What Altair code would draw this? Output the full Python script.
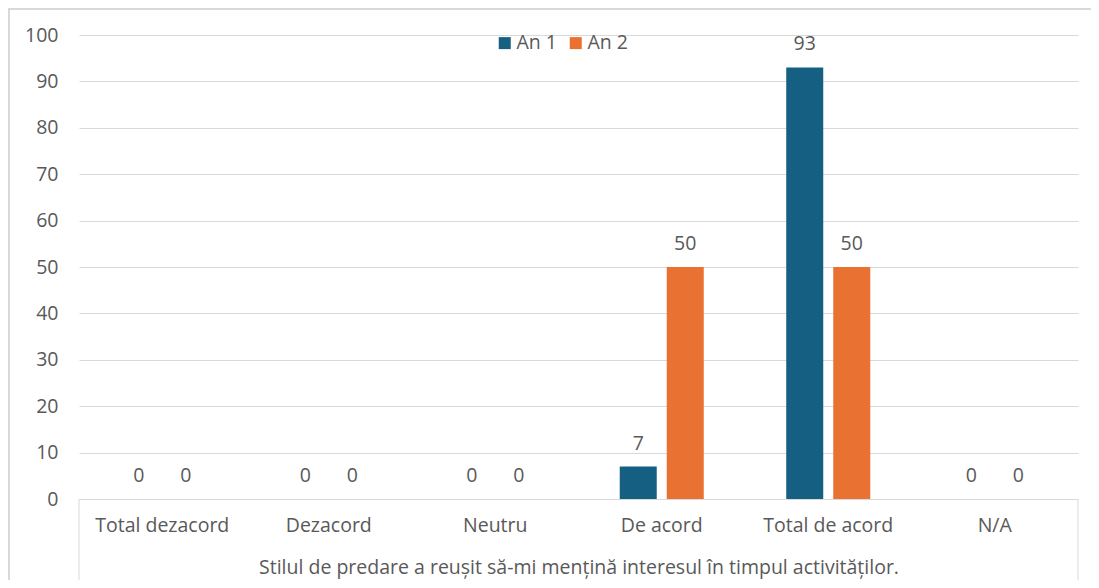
import altair as alt
import pandas as pd

categories = ["Total dezacord", "Dezacord", "Neutru", "De acord", "Total de acord", "N/A"]
series = ["An 1", "An 2"]
an1 = [0, 0, 0, 7, 93, 0]
an2 = [0, 0, 0, 50, 50, 0]
colors = ["#156082", "#E97132"]
y_ticks = [0, 10, 20, 30, 40, 50, 60, 70, 80, 90, 100]
axis_title = "Stilul de predare a reușit să-mi mențină interesul în timpul activităților."

rows = []
for c, a, b in zip(categories, an1, an2):
    rows.append({"Categorie": c, "Serie": series[0], "Valoare": a})
    rows.append({"Categorie": c, "Serie": series[1], "Valoare": b})
df = pd.DataFrame(rows)

FONT = "Open Sans"
TXT = "#595959"
GRID = "#d9d9d9"
FS = 19.5
W, H = 999, 464

x = alt.X(
    "Categorie:N",
    sort=categories,
    scale=alt.Scale(paddingInner=0, paddingOuter=0),
    axis=alt.Axis(
        title=axis_title, labelAngle=0, ticks=False, domainColor=GRID, domainWidth=1,
        labelFontSize=FS, labelColor=TXT, labelFont=FONT, labelPadding=17,
        titleFontSize=FS, titleFont=FONT, titleColor=TXT, titleFontWeight="normal",
        titlePadding=24,
    ),
)
xo = alt.XOffset("Serie:N", sort=series, scale=alt.Scale(paddingInner=0.213, paddingOuter=0.877))
y = alt.Y(
    "Valoare:Q",
    scale=alt.Scale(domain=[0, 100]),
    axis=alt.Axis(
        values=y_ticks, title=None, domain=False, ticks=False, gridColor=GRID,
        labelPadding=21, labelFontSize=FS, labelColor=TXT, labelFont=FONT,
    ),
)
color = alt.Color(
    "Serie:N",
    scale=alt.Scale(domain=series, range=colors),
    legend=alt.Legend(
        title=None, orient="none", legendX=416, legendY=-2, direction="horizontal",
        symbolType="square", symbolSize=144, symbolStrokeWidth=0,
        labelFontSize=FS, labelFont=FONT, labelColor=TXT, columnPadding=8, labelOffset=2,
    ),
)

base = alt.Chart(df)
bars = base.mark_bar().encode(x=x, xOffset=xo, y=y, color=color)
labels = base.mark_text(dy=-23, baseline="middle", fontSize=FS, color=TXT, font=FONT).encode(
    x=x, xOffset=xo, y=y, text="Valoare:Q"
)

one = alt.Chart(pd.DataFrame({"k": [0]}))
left_box = one.mark_rule(color=GRID, strokeWidth=1).encode(
    x=alt.value(0), y=alt.value(H), y2=alt.value(H + 83)
)
right_box = one.mark_rule(color=GRID, strokeWidth=1).encode(
    x=alt.value(W), y=alt.value(H), y2=alt.value(H + 83)
)
outer_left = one.mark_rule(color=GRID, strokeWidth=2).encode(
    x=alt.value(-70), y=alt.value(-27), y2=alt.value(H + 90)
)
outer_top = one.mark_rule(color=GRID, strokeWidth=2).encode(
    x=alt.value(-71), x2=alt.value(W + 20), y=alt.value(-26)
)

chart = (
    alt.layer(bars, labels, left_box, right_box, outer_left, outer_top)
    .properties(
        width=W, height=H,
        padding={"left": 71, "top": 27, "right": 13, "bottom": 81},
        autosize=alt.AutoSizeParams(type="none"),
        background="white",
    )
    .configure_view(stroke=None)
)

chart.save("out.html", embed_options={"renderer": "svg", "actions": False})
